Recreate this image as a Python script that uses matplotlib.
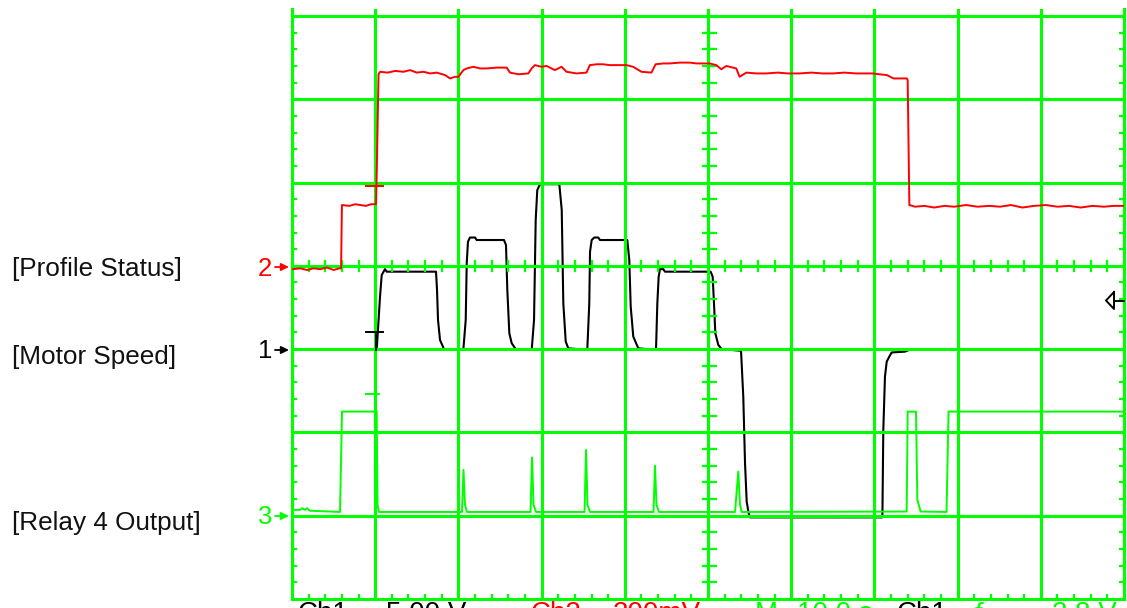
import matplotlib
matplotlib.use('Agg')
import numpy as np
import matplotlib.pyplot as plt
from matplotlib.ticker import MultipleLocator, NullFormatter

plt.rcParams['font.family'] = ['Liberation Sans', 'DejaVu Sans']

GRN = '#00ff00'
RED = '#ff0000'
BLK = '#000000'

# screen is 10 x 7 divisions, 10 s/div, levels read in divisions from the bottom
# Ch2 - profile status (red)
red_t = [0.1, 1.0, 1.8, 2.6, 3.4, 4.2, 5.0, 5.7, 5.9, 6.0, 6.9, 7.6, 8.2, 8.9, 9.5, 10.1,
         10.2, 10.4, 10.6, 11.5, 12.4, 13.4, 14.2, 15.0, 15.8, 16.6, 17.4, 18.4, 19.0, 19.6, 20.0,
         20.6, 21.0, 21.8, 22.6, 23.4, 24.6, 25.8, 26.2, 27.2, 28.4, 28.8, 29.2, 30.0, 30.6,
         31.6, 32.4, 33.0, 34.2, 35.4, 35.8, 36.6, 37.4, 38.2, 39.0, 40.2, 41.0, 42.0, 43.2,
         43.7, 44.6, 45.4, 46.6, 47.8, 48.6, 49.4, 50.2, 51.0, 51.6, 52.2, 53.4, 53.8, 54.6,
         55.8, 57.0, 58.4, 59.6, 61.0, 62.4, 63.8, 65.0, 66.4, 67.8, 69.8, 70.6, 71.5, 72.3,
         73.9, 74.0, 74.2, 74.9, 76.0, 77.2, 78.4, 79.6, 81.0, 82.4, 83.8, 85.1, 86.4, 87.8,
         89.2, 90.6, 92.0, 93.4, 94.8, 96.2, 97.6, 98.8, 100.0]
red_v = [3.96, 3.97, 3.95, 3.97, 3.96, 3.98, 3.95, 3.97, 3.97, 4.73, 4.72, 4.74, 4.73, 4.72, 4.74, 4.74,
         5.20, 6.30, 6.33, 6.32, 6.34, 6.33, 6.35, 6.32, 6.33, 6.31, 6.32, 6.29, 6.25, 6.27, 6.27,
         6.35, 6.37, 6.39, 6.37, 6.37, 6.38, 6.38, 6.32, 6.30, 6.31, 6.37, 6.41, 6.39, 6.40,
         6.35, 6.39, 6.33, 6.31, 6.32, 6.41, 6.42, 6.42, 6.41, 6.41, 6.41, 6.39, 6.33, 6.32,
         6.42, 6.43, 6.43, 6.44, 6.44, 6.43, 6.43, 6.43, 6.41, 6.36, 6.40, 6.37, 6.27, 6.32,
         6.31, 6.31, 6.32, 6.31, 6.31, 6.32, 6.31, 6.31, 6.32, 6.31, 6.31, 6.30, 6.29, 6.25,
         6.25, 6.23, 4.73, 4.71, 4.72, 4.70, 4.72, 4.71, 4.73, 4.71, 4.72, 4.71, 4.73, 4.70,
         4.72, 4.73, 4.71, 4.72, 4.70, 4.72, 4.71, 4.72, 4.72]

# Ch1 - motor speed (black)
blk_t = [0.0, 10.18, 10.58, 10.78, 11.18, 11.38, 17.31, 17.43, 17.55, 17.79, 18.27,
         20.59, 20.88, 21.0, 21.15, 21.39, 22.0, 22.2, 25.48, 25.72, 25.88, 26.12, 26.41, 26.89,
         28.81, 29.09, 29.29, 29.48, 29.81, 32.13, 32.42, 32.61, 32.90, 33.21,
         35.49, 35.73, 35.82, 36.02, 36.33, 36.81, 37.02, 40.30, 40.54, 40.71, 41.02, 41.62,
         43.75, 43.91, 44.07, 44.23, 44.63, 44.83, 50.32, 50.56, 50.72, 50.88, 51.24, 51.65,
         53.97, 54.24, 54.45, 54.65, 54.89, 55.05, 70.95, 70.97, 71.07, 71.27, 71.48, 71.79,
         72.08, 73.68, 74.16, 100.0]
blk_v = [2.99, 2.99, 3.63, 3.89, 3.96, 3.93, 3.93, 3.71, 3.35, 3.11, 3.00,
         2.99, 3.35, 4.03, 4.29, 4.34, 4.34, 4.31, 4.31, 4.25, 3.71, 3.19, 3.07, 3.00,
         2.99, 3.35, 4.55, 4.91, 4.98, 4.98, 4.67, 3.55, 3.09, 3.01,
         2.99, 3.55, 4.17, 4.31, 4.34, 4.34, 4.31, 4.31, 4.07, 3.51, 3.15, 3.01,
         2.99, 3.55, 3.87, 3.96, 3.96, 3.93, 3.93, 3.87, 3.55, 3.19, 3.05, 3.00,
         2.98, 2.43, 1.63, 1.17, 1.03, 0.98, 0.98, 1.07, 2.03, 2.67, 2.85, 2.91,
         2.96, 2.97, 2.99, 2.99]

# Ch3 - relay 4 output (green)
grn_t = [0.12, 0.96, 1.2, 1.56, 1.8, 2.16, 5.77, 6.01, 10.18, 10.28, 10.46,
         20.43, 20.61, 20.79, 21.03, 28.67, 28.85, 29.03, 29.33,
         35.16, 35.34, 35.52, 35.82, 43.45, 43.63, 43.81, 44.11,
         53.25, 53.64, 53.85, 54.05, 73.88, 74.0, 75.0, 75.16, 75.56,
         78.67, 78.91, 100.0]
grn_v = [1.07, 1.07, 1.09, 1.07, 1.09, 1.06, 1.045, 2.25, 2.25, 1.13, 1.045,
         1.045, 1.55, 1.13, 1.045, 1.045, 1.70, 1.13, 1.045,
         1.045, 1.79, 1.13, 1.045, 1.045, 1.60, 1.13, 1.045,
         1.045, 1.53, 1.13, 1.045, 1.05, 2.25, 2.25, 1.19, 1.05,
         1.045, 2.25, 2.25]

# cursor crosses at the trigger point
cur_t = 9.9
cur_lvl = {'red': 4.96, 'blk': 3.21, 'grn': 2.46}

chan_labels = ['[Profile Status]', '[Motor Speed]', '[Relay 4 Output]']
chan_nums = ['2', '1', '3']
chan_colors = [RED, BLK, GRN]
chan_y = [267, 350, 516]   # screen rows of the ground markers

readout = [('Ch1', 298, BLK), ('5.00 V', 386, BLK), ('Ch2', 531, RED), ('200mV', 613, RED),
           ('M', 755, GRN), ('10.0 s', 797, GRN), ('Ch1', 897, BLK), ('\u0192', 970, GRN),
           ('2.8 V', 1052, GRN)]

W, H = 1127, 608
fg = plt.figure(figsize=(W / 100, H / 100), dpi=100)
ax = fg.add_axes([292 / W, 9 / H, 832 / W, 590 / H])
ax.set_xlim(0, 100)
ax.set_ylim(0, 590 / 83.29)

#%% traces
ax.plot(blk_t, blk_v, color=BLK, lw=1.5, zorder=1)
ax.plot(red_t, red_v, color=RED, lw=1.4, zorder=3)
ax.plot(grn_t, grn_v, color=GRN, lw=1.4, zorder=3)

#%% graticule
for x in range(10, 100, 10):
    ax.axvline(x, color=GRN, lw=2.2, zorder=2)
for y in range(1, 8):
    ax.axhline(y, color=GRN, lw=2.2, zorder=2)

for xm in np.arange(2, 100, 2):
    if xm % 10:
        ax.plot([xm, xm], [4 - 0.06, 4 + 0.06], color=GRN, lw=1.6, zorder=2)
for ym in np.arange(0.2, 7.05, 0.2):
    if abs(ym - round(ym)) > 0.01:
        ax.plot([50 - 0.6, 50 + 1.0], [ym, ym], color=GRN, lw=1.6, zorder=2)

for s in ['left', 'right', 'bottom']:
    ax.spines[s].set_color(GRN)
    ax.spines[s].set_linewidth(2.2)
ax.spines['top'].set_visible(False)

ax.xaxis.set_major_locator(MultipleLocator(10))
ax.xaxis.set_minor_locator(MultipleLocator(2))
ax.yaxis.set_major_locator(MultipleLocator(1))
ax.yaxis.set_minor_locator(MultipleLocator(0.2))
ax.xaxis.set_major_formatter(NullFormatter())
ax.yaxis.set_major_formatter(NullFormatter())
ax.tick_params(which='major', length=0)
ax.tick_params(which='minor', direction='in', length=3.6, width=1.6, color=GRN,
               left=True, right=True, bottom=True, top=False)

#%% cursor marks
ax.plot([cur_t - 1.0, cur_t + 1.0], [cur_lvl['red']] * 2, color=RED, lw=1.4, zorder=3)
ax.plot([cur_t - 1.0, cur_t + 1.0], [cur_lvl['blk']] * 2, color=BLK, lw=1.4, zorder=3)
ax.plot([10.15, 10.15], [cur_lvl['blk'], 2.99], color=BLK, lw=1.4, zorder=3)
ax.plot([cur_t - 1.0, cur_t + 0.6], [cur_lvl['grn']] * 2, color=GRN, lw=1.4, zorder=3)

#%% overlay in screen pixels
ov = fg.add_axes([0, 0, 1, 1], facecolor='none')
ov.set_xlim(0, W)
ov.set_ylim(H, 0)
ov.axis('off')

for lbl, num, c, y in zip(chan_labels, chan_nums, chan_colors, chan_y):
    base = {267: 276, 350: 364, 516: 530}[y]
    ov.text(12, base, lbl, fontsize=18.8, color='#111111', va='baseline', ha='left')
    ov.text(258, y + 8.5, num, fontsize=18.5, color=c, va='baseline', ha='left')
    ov.annotate('', xy=(289, y), xytext=(275, y),
                arrowprops=dict(arrowstyle='-|>,head_length=0.45,head_width=0.22',
                                color=c, lw=1.3, shrinkA=0, shrinkB=0))

# trigger level arrow on the right edge
ov.plot([1114, 1106, 1114, 1114], [292, 300.5, 309, 292], color=BLK, lw=1.4)
ov.plot([1114, 1124], [300.5, 300.5], color=BLK, lw=1.4)

for txt, x, c in readout:
    ov.text(x, 621, txt, fontsize=20, color=c, va='baseline', ha='left', clip_on=False)

fg.savefig('out.png', dpi=100)
